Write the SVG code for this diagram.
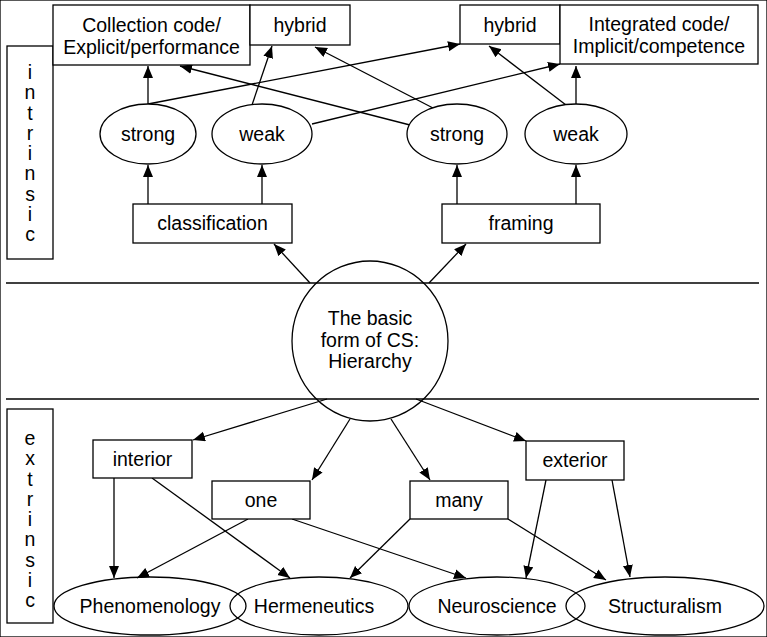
<svg xmlns="http://www.w3.org/2000/svg" width="767" height="637" viewBox="0 0 767 637">
<defs>
<marker id="ah" markerUnits="userSpaceOnUse" markerWidth="13" markerHeight="11" refX="12" refY="5" orient="auto">
<path d="M0,0 L12,5 L0,10 z" fill="#000"/>
</marker>
<style>
rect, ellipse { fill: #fff; stroke: #000; stroke-width: 1.3; }
ellipse.o { fill: none; }
.c line { stroke: #000; stroke-width: 1.3; fill: none; }
.c .a { marker-end: url(#ah); }
text { font-family: "Liberation Sans", Arial, sans-serif; font-size: 19.5px; fill: #000; text-anchor: middle; }
.sep { stroke: #000; stroke-width: 1.3; }
</style>
</defs>
<rect width="767" height="637" fill="#fff" stroke="none"/>

<line class="sep" x1="6" y1="283" x2="759" y2="283"/>
<line class="sep" x1="6" y1="399" x2="759" y2="399"/>

<g id="intrinsic">
<rect x="7" y="46" width="46" height="213"/>
<text><tspan x="30" y="79">i</tspan><tspan x="30" y="99.25">n</tspan><tspan x="30" y="119.5">t</tspan><tspan x="30" y="139.75">r</tspan><tspan x="30" y="160">i</tspan><tspan x="30" y="180.25">n</tspan><tspan x="30" y="200.5">s</tspan><tspan x="30" y="220.75">i</tspan><tspan x="30" y="241">c</tspan></text>
</g>
<g id="extrinsic">
<rect x="7" y="409" width="46" height="214"/>
<text><tspan x="30" y="445">e</tspan><tspan x="30" y="465.25">x</tspan><tspan x="30" y="485.5">t</tspan><tspan x="30" y="505.75">r</tspan><tspan x="30" y="526">i</tspan><tspan x="30" y="546.25">n</tspan><tspan x="30" y="566.5">s</tspan><tspan x="30" y="586.75">i</tspan><tspan x="30" y="607">c</tspan></text>
</g>

<g class="c" id="connectors">
<line class="a" x1="148" y1="104" x2="148" y2="66"/>
<line class="a" x1="252" y1="105" x2="272" y2="46"/>
<line class="a" x1="312" y1="124" x2="560" y2="64"/>
<line class="a" x1="148" y1="104" x2="460" y2="44"/>
<line class="a" x1="410" y1="125" x2="180" y2="66"/>
<line class="a" x1="433" y1="108" x2="315" y2="47"/>
<line class="a" x1="566" y1="105" x2="489" y2="46"/>
<line class="a" x1="576" y1="104" x2="576" y2="66"/>
<line class="a" x1="148" y1="204" x2="148" y2="165"/>
<line class="a" x1="262" y1="204" x2="262" y2="165"/>
<line class="a" x1="457" y1="204" x2="457" y2="165"/>
<line class="a" x1="576" y1="204" x2="576" y2="165"/>
<line class="a" x1="310" y1="283" x2="274" y2="244"/>
<line class="a" x1="429" y1="283" x2="466" y2="244"/>
<line class="a" x1="327" y1="399" x2="193" y2="440"/>
<line class="a" x1="416" y1="399" x2="526" y2="441"/>
<line class="a" x1="350" y1="419" x2="312" y2="480"/>
<line class="a" x1="391" y1="419" x2="430" y2="480"/>
<line class="a" x1="114" y1="478" x2="114" y2="578"/>
<line class="a" x1="152" y1="478" x2="290" y2="578"/>
<line class="a" x1="248" y1="519" x2="137" y2="578"/>
<line class="a" x1="292" y1="519" x2="466" y2="578"/>
<line class="a" x1="410" y1="519" x2="350" y2="578"/>
<line class="a" x1="508" y1="519" x2="606" y2="580"/>
<line class="a" x1="546" y1="480" x2="526" y2="578"/>
<line class="a" x1="612" y1="480" x2="630" y2="577"/>
</g>

<g id="collection">
<rect x="53" y="5" width="197" height="60"/>
<text x="151.5" y="32">Collection code/</text>
<text x="151.5" y="54">Explicit/performance</text>
</g>
<g id="hybrid1">
<rect x="250" y="5" width="100" height="40"/>
<text x="300" y="32">hybrid</text>
</g>
<g id="hybrid2">
<rect x="460" y="5" width="100" height="39"/>
<text x="510" y="32">hybrid</text>
</g>
<g id="integrated">
<rect x="560" y="5" width="198" height="59"/>
<text x="659" y="31">Integrated code/</text>
<text x="659" y="53">Implicit/competence</text>
</g>

<g id="strong1"><ellipse cx="148" cy="134" rx="48" ry="30"/><text x="148" y="141">strong</text></g>
<g id="weak1"><ellipse cx="262" cy="134" rx="50" ry="30"/><text x="262" y="141">weak</text></g>
<g id="strong2"><ellipse cx="457" cy="134" rx="50" ry="30"/><text x="457" y="141">strong</text></g>
<g id="weak2"><ellipse cx="576" cy="134" rx="51" ry="30"/><text x="576" y="141">weak</text></g>

<g id="classification"><rect x="133" y="204" width="159" height="39"/><text x="212.5" y="230">classification</text></g>
<g id="framing"><rect x="442" y="204" width="158" height="39"/><text x="521" y="230">framing</text></g>

<g id="basic">
<ellipse class="o" cx="370" cy="341" rx="78" ry="80"/>
<text x="370" y="325">The basic</text>
<text x="370" y="347">form of CS:</text>
<text x="370" y="368">Hierarchy</text>
</g>

<g id="interior"><rect x="93" y="440" width="99" height="38"/><text x="142.5" y="466">interior</text></g>
<g id="exterior"><rect x="526" y="441" width="98" height="39"/><text x="575" y="467">exterior</text></g>
<g id="one"><rect x="212" y="481" width="98" height="38"/><text x="261" y="507">one</text></g>
<g id="many"><rect x="410" y="481" width="98" height="38"/><text x="459" y="507">many</text></g>

<g id="phenomenology"><ellipse class="o" cx="150" cy="606" rx="96" ry="29"/><text x="150" y="613">Phenomenology</text></g>
<g id="hermeneutics"><ellipse class="o" cx="319" cy="606" rx="89" ry="29"/><text x="314" y="613">Hermeneutics</text></g>
<g id="neuroscience"><ellipse class="o" cx="497" cy="606" rx="88" ry="29"/><text x="497" y="613">Neuroscience</text></g>
<g id="structuralism"><ellipse class="o" cx="665" cy="606" rx="99" ry="29"/><text x="665" y="613">Structuralism</text></g>
</svg>
